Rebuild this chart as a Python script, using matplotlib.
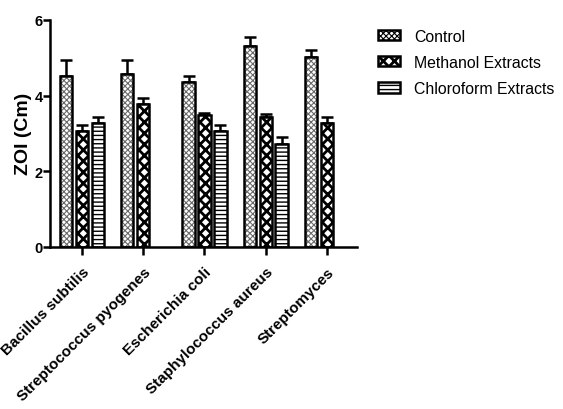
"""Zone of inhibition bar chart: control vs methanol vs chloroform extracts."""

import matplotlib
matplotlib.use("Agg")
import matplotlib.pyplot as plt
import matplotlib.patches as mpatches
import numpy as np

ORGANISMS = ["Bacillus subtilis", "Streptococcus pyogenes", "Escherichia coli",
             "Staphylococcus aureus", "Streptomyces"]
SERIES = ["Control", "Methanol Extracts", "Chloroform Extracts"]

# NaN = no bar for that organism
CONTROL = [4.52, 4.57, 4.37, 5.32, 5.01]
CONTROL_ERR = [0.41, 0.36, 0.15, 0.22, 0.20]
METHANOL = [3.07, 3.77, 3.48, 3.42, 3.26]
METHANOL_ERR = [0.15, 0.16, 0.05, 0.10, 0.16]
CHLOROFORM = [3.26, np.nan, 3.07, 2.71, np.nan]
CHLOROFORM_ERR = [0.16, np.nan, 0.15, 0.20, np.nan]

HATCHES = ["xxxxxx", "xxx", "----"]
HATCH_COLORS = ["#6a6a6a", "black", "black"]
HATCH_LW = [0.8, 2.0, 1.0]


def set_hlw(patch, lw):
    if hasattr(patch, "set_hatch_linewidth"):
        patch.set_hatch_linewidth(lw)
    else:
        patch._hatch_linewidth = lw


def main():
    plt.rcParams.update({
        "font.family": ["Liberation Sans", "DejaVu Sans"],
        "font.weight": "bold",
    })

    fig = plt.figure(figsize=(5.63, 4.10), dpi=100)
    ax = fig.add_axes([0.088, 0.3963, 0.546, 0.5525])

    x = np.arange(len(ORGANISMS))
    width = 0.2
    step = 0.26
    values = [CONTROL, METHANOL, CHLOROFORM]
    errors = [CONTROL_ERR, METHANOL_ERR, CHLOROFORM_ERR]

    for i, (vals, errs) in enumerate(zip(values, errors)):
        vals = np.array(vals, dtype=float)
        errs = np.array(errs, dtype=float)
        pos = x + (i - 1) * step
        keep = ~np.isnan(vals)
        ax.errorbar(pos[keep], vals[keep], yerr=[np.zeros(keep.sum()), errs[keep]],
                    fmt="none", ecolor="black", elinewidth=1.8, capsize=4,
                    capthick=1.8, zorder=1)
        # hatch layer, then a black outline over it
        bars = ax.bar(pos[keep], vals[keep], width, color="white",
                      edgecolor=HATCH_COLORS[i], hatch=HATCHES[i], linewidth=0,
                      zorder=2)
        for b in bars:
            set_hlw(b, HATCH_LW[i])
        ax.bar(pos[keep], vals[keep], width, fill=False,
               edgecolor="black", linewidth=1.8, zorder=3)

    ax.set_xlim(-0.53, 4.49)
    ax.set_ylim(0, 6)
    ax.set_yticks([0, 2, 4, 6])
    ax.set_xticks(x)
    ax.set_xticklabels(ORGANISMS, rotation=45, ha="right",
                       rotation_mode="anchor", fontsize=11, fontweight="bold")
    ax.tick_params(axis="y", labelsize=10.5, width=1.8, length=5, pad=0)
    ax.tick_params(axis="x", width=1.8, length=6, pad=7)
    ax.set_ylabel("ZOI (Cm)", fontsize=14, fontweight="bold", labelpad=2)

    for side in ["top", "right"]:
        ax.spines[side].set_visible(False)
    for side in ["left", "bottom"]:
        ax.spines[side].set_linewidth(1.8)

    handles = []
    for i, name in enumerate(SERIES):
        p = mpatches.Patch(facecolor="white", edgecolor="black",
                           hatch=HATCHES[i], linewidth=1.8, label=name)
        handles.append(p)
    leg = fig.legend(handles=handles, loc="upper left",
                     bbox_to_anchor=(0.671, 0.927), frameon=False,
                     borderpad=0, borderaxespad=0,
                     prop={"size": 11.4, "weight": "normal"},
                     handlelength=1.4, handleheight=0.6, labelspacing=0.7,
                     handletextpad=0.9)
    for i, p in enumerate(leg.get_patches()):
        set_hlw(p, HATCH_LW[i])

    fig.savefig("out.png", dpi=100)
    plt.close(fig)


if __name__ == "__main__":
    main()
